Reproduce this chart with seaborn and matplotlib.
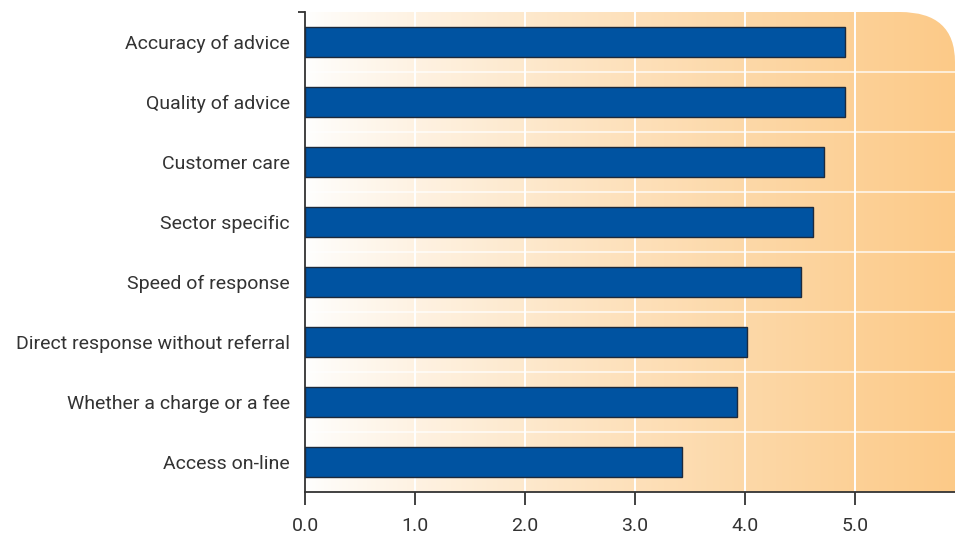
import numpy as np
import pandas as pd
import matplotlib
matplotlib.use("Agg")
import matplotlib.pyplot as plt
from matplotlib.path import Path
from matplotlib.patches import PathPatch
from matplotlib.colors import to_rgb
import seaborn as sns

# Survey attributes and their mean ratings
categories = [
    "Accuracy of advice",
    "Quality of advice",
    "Customer care",
    "Sector specific",
    "Speed of response",
    "Direct response without referral",
    "Whether a charge or a fee",
    "Access on-line",
]
ratings = [4.91, 4.91, 4.72, 4.62, 4.51, 4.02, 3.93, 3.43]
x_ticks = [0.0, 1.0, 2.0, 3.0, 4.0, 5.0]
x_tick_labels = ["0.0", "1.0", "2.0", "3.0", "4.0", "5.0"]

df = pd.DataFrame({"attribute": categories, "rating": ratings})

sns.set_theme(style="white")
plt.rcParams["font.family"] = ["Roboto", "DejaVu Sans"]

W, H, DPI = 955, 536, 100
fig = plt.figure(figsize=(W / DPI, H / DPI), dpi=DPI)
left, right, top, bottom = 305, 955, 12, 492
ax = fig.add_axes([left / W, (H - bottom) / H, (right - left) / W, (bottom - top) / H])
ax.set_facecolor("none")

# Panel shape: square corners except a rounded top-right corner
px_w, px_h = right - left, bottom - top
rx, ry = 55 / px_w, 50 / px_h
verts = [(0, 0), (1, 0), (1, 1 - ry), (1, 1), (1 - rx, 1), (0, 1), (0, 0)]
codes = [Path.MOVETO, Path.LINETO, Path.LINETO, Path.CURVE3, Path.CURVE3,
         Path.LINETO, Path.CLOSEPOLY]
panel = PathPatch(Path(verts, codes), transform=ax.transAxes,
                  facecolor="none", edgecolor="none")
ax.add_patch(panel)

# Horizontal white-to-amber gradient behind the bars
c0 = np.array(to_rgb("#ffffff"))
c1 = np.array(to_rgb("#fcca88"))
t = np.linspace(0, 1, 512) ** 0.8
grad = (c0[None, :] * (1 - t[:, None]) + c1[None, :] * t[:, None])[None, :, :]
img = ax.imshow(grad, extent=[0, 1, 0, 1], transform=ax.transAxes,
                aspect="auto", zorder=0, interpolation="bilinear")
img.set_clip_path(panel)

sns.barplot(data=df, y="attribute", x="rating", orient="h", ax=ax,
            color="#0053a1", saturation=1, width=0.5,
            edgecolor="#1d2a3c", linewidth=1.0, zorder=3)

ax.set_xlim(0, 5.91)
ax.set_ylim(len(categories) - 0.5, -0.5)

# White grid: value lines and category separators
for xv in x_ticks[1:]:
    ax.axvline(xv, color="white", lw=1.4, zorder=1)
for yv in np.arange(0.5, len(categories) - 0.5, 1.0):
    ax.axhline(yv, color="white", lw=1.2, alpha=0.8, zorder=1)

ax.set_xticks(x_ticks)
ax.set_xticklabels(x_tick_labels)
ax.set_xlabel("")
ax.set_ylabel("")

for side in ("top", "right"):
    ax.spines[side].set_visible(False)
for side in ("left", "bottom"):
    ax.spines[side].set_color("#333333")
    ax.spines[side].set_linewidth(1.3)

ax.tick_params(axis="x", which="major", direction="out", length=9, width=1.3,
               color="#333333", pad=9, labelsize=14, labelcolor="#333333",
               bottom=True)
ax.tick_params(axis="y", which="major", length=0, pad=11, labelsize=14,
               labelcolor="#333333", left=False)

# Small cap tick at the top of the value axis
ax.plot([-0.011, 0], [1, 1], transform=ax.transAxes, color="#333333",
        lw=1.3, clip_on=False, solid_capstyle="butt")

fig.savefig("out.png", dpi=DPI)
